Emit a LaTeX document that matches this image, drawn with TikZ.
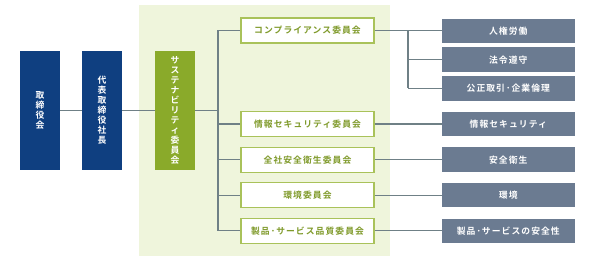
\documentclass[tikz,border=0pt]{standalone}
\usepackage{fontspec}
\setmainfont{Noto Sans CJK JP}[BoldFont={* Bold}]
\newfontfamily\jpfont{Noto Sans CJK JP Bold}[LetterSpace=12]
\definecolor{navy}{HTML}{0F3F80}
\definecolor{olive}{HTML}{8AAA2A}
\definecolor{bgpale}{HTML}{EFF5DC}
\definecolor{cmtborder}{HTML}{A9C25A}
\definecolor{cmttext}{HTML}{7F9A2A}
\definecolor{slate}{HTML}{6B7B91}
\definecolor{linegray}{HTML}{6F8086}
\begin{document}
\begin{tikzpicture}[x=1pt,y=-1pt,
  vbox/.style={minimum width=40pt,minimum height=119pt,inner sep=0pt,align=center,text=white,
    font={\jpfont\fontsize{8.8}{10}\selectfont}},
  cmt/.style={draw=cmtborder,line width=1.2pt,fill=white,minimum width=133pt,minimum height=25pt,inner sep=0pt,
    text=cmttext,font={\jpfont\fontsize{8.8}{10}\selectfont}},
  topic/.style={fill=slate,minimum width=132.5pt,minimum height=24.5pt,inner sep=0pt,
    text=white,font={\jpfont\fontsize{8.8}{10}\selectfont}},
  conn/.style={draw=linegray,line width=1.3pt}]
\useasboundingbox (0,0) rectangle (592,261);
\fill[bgpale] (139,5) rectangle (390,256);
\node[vbox,fill=navy] (board) at (40,110.5) {取\\締\\役\\会};
\node[vbox,fill=navy] (pres) at (102,110.5) {代\\表\\取\\締\\役\\社\\長};
\node[vbox,fill=olive] (sus) at (175,110.5) {サ\\ス\\テ\\ナ\\ビ\\リ\\テ\\ィ\\委\\員\\会};
\coordinate (trunk) at (218,0);
\coordinate (branch) at (408,0);
\node[cmt] (c1) at (307.5,30.5) {コンプライアンス委員会};
\node[cmt] (c2) at (307.5,124) {情報セキュリティ委員会};
\node[cmt] (c3) at (307.5,159.7) {全社安全衛生委員会};
\node[cmt] (c4) at (307.5,195.2) {環境委員会};
\node[cmt] (c5) at (307.5,230.8) {製品･サービス品質委員会};
\node[topic] (r1) at (508.3,30.8) {人権労働};
\node[topic] (r2) at (508.3,59.7) {法令遵守};
\node[topic] (r3) at (508.3,88.4) {公正取引･企業倫理};
\node[topic] (r4) at (508.3,124) {情報セキュリティ};
\node[topic] (r5) at (508.3,159.7) {安全衛生};
\node[topic] (r6) at (508.3,195.2) {環境};
\node[topic] (r7) at (508.3,230.8) {製品･サービスの安全性};
\draw[conn] (board.east) -- (pres.west);
\draw[conn] (pres.east) -- (sus.west);
\draw[conn] (sus.east) -- (sus.east -| trunk);
\draw[conn] (c1.west -| trunk) -- (c5.west -| trunk);
\foreach \c in {c1,c2,c3,c4,c5} \draw[conn] (\c.west -| trunk) -- (\c.west);
\draw[conn] (c1.east) -- (r1.west |- c1.east);
\draw[conn] (c1.east -| branch) -- (r3.west -| branch);
\draw[conn] (r2.west -| branch) -- (r2.west);
\draw[conn] (r3.west -| branch) -- (r3.west);
\draw[conn] (c2.east) -- (r4.west);
\draw[conn] (c3.east) -- (r5.west);
\draw[conn] (c4.east) -- (r6.west);
\draw[conn] (c5.east) -- (r7.west);
\end{tikzpicture}
\end{document}
